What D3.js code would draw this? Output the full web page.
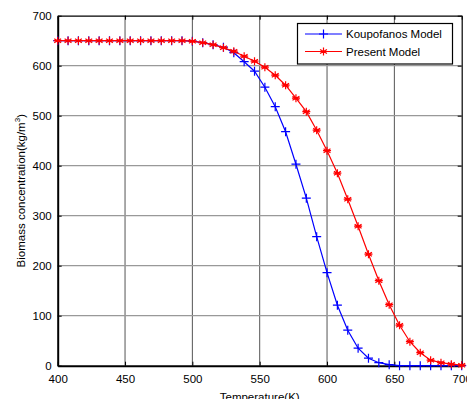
<!DOCTYPE html>
<html>
<head>
<meta charset="utf-8">
<script src="https://cdn.jsdelivr.net/npm/d3@7"></script>
<style>
html,body{margin:0;padding:0;background:#fff;}
svg{display:block;}
text{font-family:"Liberation Sans",Arial,sans-serif;}
</style>
</head>
<body>
<svg id="chart" width="467" height="399"></svg>
<script>
// Temperatures: 40 points from 400 to 700 K
const temperature = d3.range(40).map(k => 400 + k * 300 / 39);
const koupofanos = [650,650,650,650,650,650,650,650,650,650,650,650,650,649,646,642,637,626,608,589,557,518,468,403,335,258,186,121,71,35,15,6,2,0,0,0,0,0,0,0];
const present    = [650,650,650,650,650,650,650,650,650,650,650,650,650,649,646,642,636,629,619,609,597,581,561,535,508,471,430,385,333,279,223,170,122,81,48,26,11,6,3,1];
const xTicks = [400,450,500,550,600,650,700];
const yTicks = [0,100,200,300,400,500,600,700];
const seriesNames = ["Koupofanos Model","Present Model"];

const svg = d3.select("#chart");
const L = 57.7, R = 461.7, T = 15.7, B = 365.7;
const x = d3.scaleLinear().domain([400,700]).range([L,R]);
const y = d3.scaleLinear().domain([0,700]).range([B,T]);

// grid
svg.append("g").selectAll("line").data(xTicks.slice(1,-1)).join("line")
  .attr("x1",d=>x(d)).attr("x2",d=>x(d)).attr("y1",T).attr("y2",B)
  .attr("stroke","#555").attr("stroke-width",1);
svg.append("g").selectAll("line").data(yTicks.slice(1,-1)).join("line")
  .attr("x1",L).attr("x2",R).attr("y1",d=>y(d)).attr("y2",d=>y(d))
  .attr("stroke","#999").attr("stroke-width",1.2);

// axes with inward ticks
const fmt = d3.format("d");
const gx = svg.append("g").attr("transform",`translate(0,${B})`)
  .call(d3.axisBottom(x).tickValues(xTicks).tickSizeInner(-4).tickSizeOuter(0).tickPadding(9).tickFormat(fmt));
const gy = svg.append("g").attr("transform",`translate(${L},0)`)
  .call(d3.axisLeft(y).tickValues(yTicks).tickSizeInner(-4).tickSizeOuter(0).tickPadding(6).tickFormat(fmt));
const gxt = svg.append("g").attr("transform",`translate(0,${T})`)
  .call(d3.axisTop(x).tickValues(xTicks).tickSizeInner(-4).tickSizeOuter(0).tickFormat(""));
const gyr = svg.append("g").attr("transform",`translate(${R},0)`)
  .call(d3.axisRight(y).tickValues(yTicks).tickSizeInner(-4).tickSizeOuter(0).tickFormat(""));
[gx,gy,gxt,gyr].forEach(g=>{
  g.selectAll("text").attr("font-size",11.5).attr("fill","#000").attr("font-family","Liberation Sans, Arial, sans-serif");
  g.selectAll("line").attr("stroke","#000");
});
gx.select(".domain").attr("stroke","#000").attr("stroke-width",2);
gy.select(".domain").attr("stroke","#000").attr("stroke-width",2);
gxt.select(".domain").attr("stroke","#000").attr("stroke-width",1.2);
gyr.select(".domain").attr("stroke","#000").attr("stroke-width",1.2);

// series
const line = d3.line().x((d,i)=>x(temperature[i])).y(d=>y(d));
const plusPath = s => `M${-s},0H${s}M0,${-s}V${s}`;
const starPath = s => {
  let p = "";
  for (let a=0;a<3;a++){ const ang = Math.PI/2 + a*Math.PI/3; const dx=Math.cos(ang)*s, dy=Math.sin(ang)*s; p+=`M${-dx},${-dy}L${dx},${dy}`; }
  return p + `M${-s},0H${s}`;
};
function drawSeries(vals,color,marker){
  const g = svg.append("g");
  g.append("path").attr("d",line(vals)).attr("fill","none").attr("stroke",color).attr("stroke-width",1.2);
  g.selectAll("path.m").data(vals).join("path").attr("class","m")
    .attr("transform",(d,i)=>`translate(${x(temperature[i])},${y(d)})`)
    .attr("d",marker).attr("fill","none").attr("stroke",color).attr("stroke-width",1.2);
}
drawSeries(koupofanos,"#0000ff",plusPath(4.5));
drawSeries(present,"#ff0000",starPath(4));

// legend
const lg = svg.append("g");
lg.append("rect").attr("x",297.5).attr("y",23.5).attr("width",155).attr("height",40.5)
  .attr("fill","#fff").attr("stroke","#000").attr("stroke-width",1.2);
const legendItems = [
  {name:seriesNames[0], color:"#0000ff", marker:plusPath(4.5), yy:34},
  {name:seriesNames[1], color:"#ff0000", marker:starPath(4), yy:51.5}
];
legendItems.forEach(it=>{
  lg.append("line").attr("x1",305).attr("x2",342).attr("y1",it.yy).attr("y2",it.yy).attr("stroke",it.color).attr("stroke-width",1.2);
  lg.append("path").attr("transform",`translate(323.5,${it.yy})`).attr("d",it.marker).attr("fill","none").attr("stroke",it.color).attr("stroke-width",1.2);
  lg.append("text").attr("x",346).attr("y",it.yy+4).attr("font-size",11.5).attr("fill","#000").text(it.name);
});

// axis labels
svg.append("text").attr("x",(L+R)/2).attr("y",401).attr("text-anchor","middle").attr("font-size",11.5).text("Temperature(K)");
const yl = svg.append("text").attr("transform",`translate(25,${(T+B)/2}) rotate(-90)`).attr("text-anchor","middle").attr("font-size",11.5);
yl.append("tspan").text("Biomass concentration(kg/m");
yl.append("tspan").attr("font-size",8).attr("dy",-5).text("3");
yl.append("tspan").attr("dy",5).text(")");
</script>
</body>
</html>
